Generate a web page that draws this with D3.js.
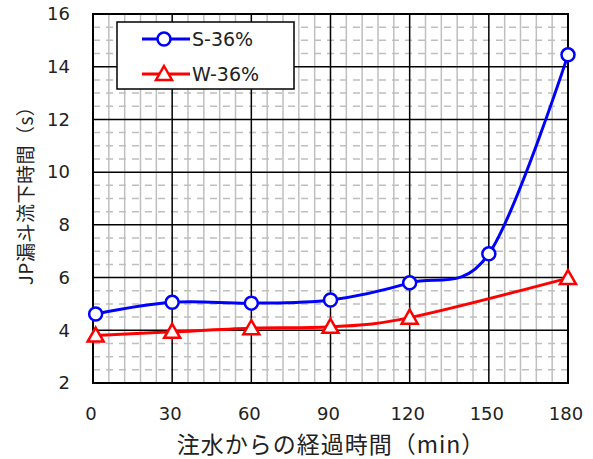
<!DOCTYPE html>
<meta charset="utf-8">
<script src="https://d3js.org/d3.v7.min.js"></script>
<style>
    body { margin: 0; background: #fff; }
    text { font-family: "DejaVu Sans", "Noto Sans CJK JP", sans-serif; fill: #222; }
    text.cjk { font-family: "Noto Sans CJK JP", sans-serif; }
</style>
<body>
<div id="chart"></div>
<script>
    // data
    var sTimes = [1, 30, 60, 90, 120, 150, 180]
    var sValues = [4.62, 5.06, 5.03, 5.15, 5.8, 6.9, 14.45]
    var wTimes = [1, 30, 60, 90, 120, 180]
    var wValues = [3.8, 3.94, 4.08, 4.13, 4.48, 5.98]
    var xTicks = [0, 30, 60, 90, 120, 150, 180]
    var yTicks = [2, 4, 6, 8, 10, 12, 14, 16]
    var seriesNames = ["S-36%", "W-36%"]
    var xTitle = "注水からの経過時間（min）"
    var yTitle = "JP漏斗流下時間（s）"

    var width = 593, height = 459
    var margin = { left: 93, right: 25, top: 14, bottom: 76 }

    var svg = d3.select("#chart").append("svg")
        .attr("width", width)
        .attr("height", height)

    var x = d3.scaleLinear().domain([0, 180]).range([margin.left, width - margin.right])
    var y = d3.scaleLinear().domain([2, 16]).range([height - margin.bottom, margin.top])

    // minor grid: vertical solid grey every 6, horizontal dashed every 0.5
    svg.append("g").selectAll("line")
        .data(d3.range(0, 181, 6).filter(function (d) { return d % 30 !== 0 }))
        .enter().append("line")
        .attr("x1", function (d) { return x(d) }).attr("x2", function (d) { return x(d) })
        .attr("y1", y(2)).attr("y2", y(16))
        .attr("stroke", "#bfbfbf").attr("stroke-width", 1.5)

    svg.append("g").selectAll("line")
        .data(d3.range(2, 16.01, 0.5).filter(function (d) { return d % 2 !== 0 }))
        .enter().append("line")
        .attr("x1", x(0)).attr("x2", x(180))
        .attr("y1", function (d) { return y(d) }).attr("y2", function (d) { return y(d) })
        .attr("stroke", "#bfbfbf").attr("stroke-width", 1.5)
        .attr("stroke-dasharray", "7,6")

    // major grid
    svg.append("g").selectAll("line")
        .data(xTicks)
        .enter().append("line")
        .attr("x1", function (d) { return x(d) }).attr("x2", function (d) { return x(d) })
        .attr("y1", y(2)).attr("y2", y(16))
        .attr("stroke", "#000").attr("stroke-width", 1.5)

    svg.append("g").selectAll("line")
        .data(yTicks)
        .enter().append("line")
        .attr("x1", x(0)).attr("x2", x(180))
        .attr("y1", function (d) { return y(d) }).attr("y2", function (d) { return y(d) })
        .attr("stroke", "#000").attr("stroke-width", 1.5)

    svg.append("rect")
        .attr("x", x(0)).attr("y", y(16))
        .attr("width", x(180) - x(0)).attr("height", y(2) - y(16))
        .attr("fill", "none").attr("stroke", "#000").attr("stroke-width", 2)

    // tick labels
    svg.append("g").selectAll("text")
        .data(yTicks)
        .enter().append("text")
        .attr("x", 70).attr("y", function (d) { return y(d) })
        .attr("dy", "0.35em")
        .attr("text-anchor", "end")
        .style("font-size", "18px")
        .text(function (d) { return d })

    svg.append("g").selectAll("text")
        .data(xTicks)
        .enter().append("text")
        .attr("x", function (d) { return x(d) - 2 }).attr("y", 414)
        .attr("dy", "0.35em")
        .attr("text-anchor", "middle")
        .style("font-size", "18px")
        .text(function (d) { return d })

    svg.append("text")
        .attr("class", "cjk")
        .attr("x", 331).attr("y", 445).attr("dy", "0.35em")
        .attr("text-anchor", "middle")
        .style("font-size", "23px")
        .style("letter-spacing", "1px")
        .text(xTitle)

    svg.append("text")
        .attr("class", "cjk")
        .attr("transform", "translate(26,191) rotate(-90)")
        .attr("dy", "0.35em")
        .attr("text-anchor", "middle")
        .style("font-size", "19px")
        .style("letter-spacing", "0.5px")
        .text(yTitle)

    // series
    var series = [
        { name: seriesNames[0], times: sTimes, values: sValues, color: "#0000ff", shape: "circle" },
        { name: seriesNames[1], times: wTimes, values: wValues, color: "#ff0000", shape: "triangle" }
    ]

    var line = d3.line()
        .x(function (d) { return x(d[0]) })
        .y(function (d) { return y(d[1]) })
        .curve(d3.curveCatmullRom.alpha(0))

    function drawMarker(g, shape, color) {
        if (shape === "circle") {
            g.append("circle").attr("r", 6.5)
                .attr("fill", "#fff").attr("stroke", color).attr("stroke-width", 2.5)
        } else {
            g.append("path").attr("d", "M0,-8L8,6L-8,6Z")
                .attr("fill", "#fff").attr("stroke", color).attr("stroke-width", 2.5)
        }
    }

    series.slice().reverse().forEach(function (s) {
        var pts = s.times.map(function (t, i) { return [t, s.values[i]] })
        svg.append("path")
            .attr("d", line(pts))
            .attr("fill", "none")
            .attr("stroke", s.color)
            .attr("stroke-width", 3)
        pts.forEach(function (p) {
            var g = svg.append("g").attr("transform", "translate(" + x(p[0]) + "," + y(p[1]) + ")")
            drawMarker(g, s.shape, s.color)
        })
    })

    // legend
    var legend = svg.append("g")
    legend.append("rect")
        .attr("x", 117).attr("y", 22).attr("width", 177).attr("height", 67)
        .attr("fill", "#fff").attr("stroke", "#000").attr("stroke-width", 1.5)

    series.forEach(function (s, i) {
        var ly = 39 + i * 35
        legend.append("line")
            .attr("x1", 142).attr("x2", 190).attr("y1", ly).attr("y2", ly)
            .attr("stroke", s.color).attr("stroke-width", 3)
        var g = legend.append("g").attr("transform", "translate(164," + ly + ")")
        drawMarker(g, s.shape, s.color)
        legend.append("text")
            .attr("x", 192).attr("y", ly).attr("dy", "0.35em")
            .style("font-size", "19px")
            .text(s.name)
    })
</script>
</body>
